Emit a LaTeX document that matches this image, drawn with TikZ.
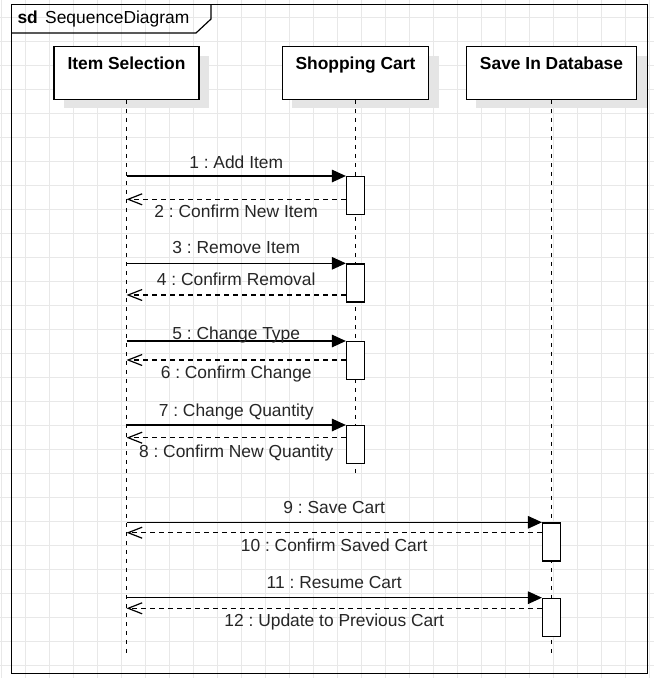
\documentclass[tikz,border=0pt]{standalone}
\usepackage{fontspec}
\setmainfont{Liberation Sans}
\usetikzlibrary{positioning, arrows.meta, shadows}
\newcommand\diafont{\fontsize{17.4pt}{21pt}\selectfont\frenchspacing}

\begin{document}
\begin{tikzpicture}[x=1pt, y=-1pt, font=\diafont,
    gridline/.style={draw=black!9, line width=0.8pt},
    head/.style={draw, fill=white, line width=1.2pt, minimum height=52.6pt, inner sep=0pt,
        general shadow={fill=black!10, shadow xshift=10pt, shadow yshift=-9pt}},
    bar/.style={draw, fill=white, line width=1.2pt, minimum width=18pt, minimum height=38pt, inner sep=0pt, anchor=north},
    lifeline/.style={line width=1.2pt, dash pattern=on 4.5pt off 4.5pt},
    msg/.style={line width=1.2pt, -{Triangle[length=14pt, width=12.5pt]}},
    reply/.style={line width=1.2pt, dash pattern=on 5pt off 4pt, -{Straight Barb[length=14pt, width=11pt]}},
    lbl/.style={anchor=base, inner sep=0pt, text=black!85},
    headlbl/.style={below=10.5pt, inner sep=0pt, font=\diafont\bfseries}]
        \useasboundingbox (0,0) rectangle (654,678);

        % background grid
        \foreach \gx in {1.5,25.5,...,649.5} \draw[gridline] (\gx,0) -- (\gx,678);
        \foreach \gy in {17.3,41.3,...,665.3} \draw[gridline] (0,\gy) -- (654,\gy);

        % frame
        \node[draw, line width=1.3pt, minimum width=636pt, minimum height=669pt, inner sep=0pt, anchor=north west](frame) at (11,4){};
        \draw[line width=1.2pt] (frame.north west) ++(0,29) -- ++(185,0) -- ++(15,-14) -- ++(0,-15);
        \node[anchor=base west, inner sep=0pt](title) at (17.3,23.3){\textbf{sd}\hspace{7.4pt}SequenceDiagram};

        % lifelines
        \node[head, minimum width=145pt, label={[headlbl]north:Item Selection}](sel) at (126.5,73){};
        \node[head, minimum width=146.6pt, label={[headlbl]north:Shopping Cart}](cart)[right = 82pt of sel]{};
        \node[head, minimum width=170.3pt, label={[headlbl]north:Save In Database}](db)[right = 36.4pt of cart]{};

        \draw[lifeline] (sel.south) -- (sel.south |- 0,655);
        \draw[lifeline] (cart.south) -- (cart.south |- 0,476.5);
        \draw[lifeline] (db.south) -- (db.south |- 0,653);

        % activations
        \node[bar](a1) at (cart |- 0,176){};
        \node[bar](a2) at (cart |- 0,263.3){};
        \node[bar](a3) at (cart |- 0,341){};
        \node[bar](a4) at (cart |- 0,425){};
        \node[bar](a5) at (db |- 0,522.3){};
        \node[bar](a6) at (db |- 0,597.7){};

        \coordinate (r1) at ([yshift=-23.3pt]a1.north west);
        \coordinate (r2) at ([yshift=-31.7pt]a2.north west);
        \coordinate (r3) at ([yshift=-19pt]a3.north west);
        \coordinate (r4) at ([yshift=-12.7pt]a4.north west);
        \coordinate (r5) at ([yshift=-10.4pt]a5.north west);
        \coordinate (r6) at ([yshift=-10.6pt]a6.north west);

        % messages
        \draw[msg] (sel |- a1.north west) -- node[lbl, yshift=7.5pt](t1){1 : Add Item} (a1.north west);
        \draw[reply] (r1) -- node[lbl, yshift=-18.6pt](t2){2 : Confirm New Item} (sel |- r1);
        \draw[msg] (sel |- a2.north west) -- node[lbl, yshift=9.4pt](t3){3 : Remove Item} (a2.north west);
        \draw[reply] (r2) -- node[lbl, yshift=9.8pt](t4){4 : Confirm Removal} (sel |- r2);
        \draw[msg] (sel |- a3.north west) -- node[lbl, yshift=1.8pt](t5){5 : Change Type} (a3.north west);
        \draw[reply] (r3) -- node[lbl, yshift=-18.9pt](t6){6 : Confirm Change} (sel |- r3);
        \draw[msg] (sel |- a4.north west) -- node[lbl, yshift=8.8pt](t7){7 : Change Quantity} (a4.north west);
        \draw[reply] (r4) -- node[lbl, yshift=-19.5pt](t8){8 : Confirm New Quantity} (sel |- r4);
        \draw[msg] (sel |- a5.north west) -- node[lbl, yshift=8.4pt](t9){9 : Save Cart} (a5.north west);
        \draw[reply] (r5) -- node[lbl, yshift=-18.5pt](t10){10 : Confirm Saved Cart} (sel |- r5);
        \draw[msg] (sel |- a6.north west) -- node[lbl, yshift=8.8pt](t11){11 : Resume Cart} (a6.north west);
        \draw[reply] (r6) -- node[lbl, yshift=-18.6pt](t12){12 : Update to Previous Cart} (sel |- r6);
    \end{tikzpicture}
\end{document}
